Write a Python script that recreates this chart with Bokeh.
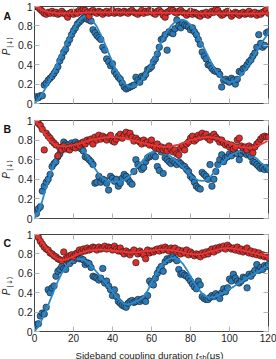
import math
from bokeh.plotting import figure
from bokeh.models import Range1d, FixedTicker, LinearAxis, ColumnDataSource
from bokeh.core.properties import value
from bokeh.layouts import column, row
from bokeh.embed import file_html
from bokeh.resources import INLINE

# ---------------- data ----------------
t_us = list(range(0, 121))          # sample times (us)
t_fit = list(range(0, 121, 2))      # fit curve sample times (us)

x_ticks = [0, 20, 40, 60, 80, 100, 120]
x_tick_labels = {0: "0", 20: "20", 40: "40", 60: "60", 80: "80", 100: "100", 120: "120"}
y_ticks = [0, 0.2, 0.4, 0.6, 0.8, 1]
y_tick_labels = {0: "0", 0.2: "0.2", 0.4: "0.4", 0.6: "0.6", 0.8: "0.8", 1: "1"}

panel_letters = ["A", "B", "C"]
x_title_parts = ["Sideband coupling duration ", "t", "sb", "(\u03bcs)"]
y_title_parts = ["P", "|\u2193\u27e9"]

red_A = [1.00,1.00,0.99,0.97,0.95,0.93,0.92,0.94,0.93,0.95,
         0.93,0.94,0.92,0.93,0.95,0.93,0.92,0.89,0.93,0.94,
         0.92,0.94,0.93,0.96,0.95,0.97,0.96,0.94,0.90,0.95,
         0.96,0.94,0.93,0.95,0.94,0.92,0.94,0.95,0.93,0.94,
         0.96,0.93,0.94,0.95,0.93,0.94,0.95,0.94,0.93,0.95,
         0.96,0.94,0.93,0.92,0.94,0.96,0.93,0.95,0.94,0.96,
         0.95,0.93,0.92,0.95,0.96,0.94,0.91,0.89,0.94,0.95,
         0.97,0.96,0.94,0.93,0.95,0.96,0.94,0.93,0.91,0.93,
         0.95,0.92,0.94,0.93,0.91,0.90,0.93,0.92,0.94,0.91,
         0.93,0.95,0.94,0.97,0.96,0.93,0.91,0.92,0.94,0.95,
         0.93,0.90,0.92,0.94,0.93,0.91,0.93,0.94,0.92,0.93,
         0.95,0.92,0.93,0.94,0.91,0.93,0.92,0.94,0.95,0.97,
         0.93]
blue_A = [0.06,0.07,0.06,0.08,0.08,0.19,0.21,0.24,0.26,0.28,
          0.31,0.34,0.38,0.44,0.48,0.53,0.56,0.62,0.66,0.71,
          0.75,0.78,0.82,0.84,0.86,0.88,0.89,0.87,0.86,0.85,
          0.76,0.73,0.70,0.68,0.66,0.58,0.55,0.46,0.43,0.39,
          0.41,0.33,0.30,0.27,0.25,0.21,0.17,0.15,0.16,0.17,
          0.18,0.19,0.27,0.24,0.22,0.28,0.27,0.30,0.35,0.36,
          0.38,0.43,0.46,0.51,0.58,0.66,0.67,0.71,0.55,0.74,
          0.73,0.72,0.77,0.86,0.80,0.78,0.83,0.81,0.80,0.79,
          0.76,0.78,0.74,0.71,0.66,0.61,0.53,0.49,0.46,0.40,
          0.39,0.36,0.34,0.33,0.33,0.30,0.17,0.24,0.25,0.23,
          0.22,0.26,0.24,0.20,0.25,0.33,0.32,0.36,0.37,0.40,
          0.43,0.45,0.49,0.52,0.58,0.71,0.62,0.58,0.60,0.73,
          0.74]
red_A_fit = [1.00,0.985,0.965,0.95,0.94,0.935,0.93,0.93,0.93,0.93,
             0.93,0.932,0.935,0.937,0.94,0.94,0.94,0.94,0.94,0.94,
             0.94,0.94,0.94,0.938,0.937,0.936,0.935,0.935,0.935,0.935,
             0.935,0.935,0.935,0.935,0.935,0.934,0.933,0.932,0.932,0.932,
             0.931,0.931,0.93,0.93,0.93,0.93,0.93,0.93,0.93,0.93,
             0.93,0.93,0.928,0.927,0.926,0.926,0.926,0.927,0.928,0.929,
             0.93]
blue_A_fit = [0.0,0.04,0.10,0.17,0.25,0.34,0.43,0.52,0.61,0.69,
              0.77,0.83,0.88,0.90,0.89,0.85,0.79,0.71,0.62,0.52,
              0.43,0.34,0.27,0.21,0.18,0.17,0.18,0.22,0.27,0.34,
              0.42,0.50,0.59,0.67,0.74,0.80,0.84,0.86,0.865,0.85,
              0.81,0.76,0.69,0.61,0.53,0.45,0.37,0.31,0.26,0.23,
              0.22,0.225,0.25,0.29,0.34,0.40,0.47,0.54,0.61,0.67,
              0.73]

red_B = [1.00,0.99,0.97,0.95,0.91,0.70,0.87,0.84,0.82,0.79,
         0.77,0.75,0.64,0.72,0.70,0.74,0.71,0.72,0.70,0.74,
         0.73,0.72,0.75,0.74,0.77,0.78,0.76,0.80,0.79,0.81,
         0.76,0.83,0.80,0.85,0.81,0.84,0.82,0.80,0.83,0.85,
         0.79,0.78,0.81,0.84,0.86,0.82,0.85,0.88,0.84,0.87,
         0.83,0.79,0.82,0.80,0.78,0.76,0.80,0.77,0.78,0.75,
         0.80,0.74,0.72,0.76,0.71,0.73,0.70,0.72,0.69,0.74,
         0.71,0.68,0.70,0.66,0.65,0.72,0.74,0.70,0.76,0.78,
         0.82,0.84,0.79,0.81,0.85,0.83,0.87,0.84,0.86,0.82,
         0.80,0.84,0.86,0.83,0.81,0.78,0.80,0.77,0.75,0.76,
         0.73,0.75,0.71,0.73,0.80,0.82,0.74,0.72,0.73,0.70,
         0.74,0.72,0.67,0.73,0.76,0.78,0.81,0.83,0.84,0.83,
         0.83]
blue_B = [0.06,0.05,0.10,0.12,0.28,0.33,0.37,0.40,0.45,0.53,
          0.56,0.58,0.63,0.66,0.73,0.78,0.76,0.75,0.74,0.77,
          0.75,0.78,0.76,0.73,0.71,0.69,0.63,0.62,0.60,0.58,
          0.55,0.36,0.37,0.43,0.37,0.40,0.39,0.36,0.29,0.43,
          0.41,0.38,0.40,0.33,0.36,0.41,0.45,0.43,0.40,0.37,
          0.35,0.48,0.60,0.55,0.53,0.50,0.52,0.58,0.62,0.63,
          0.64,0.65,0.63,0.53,0.49,0.68,0.46,0.62,0.60,0.58,
          0.56,0.59,0.57,0.55,0.58,0.56,0.54,0.53,0.50,0.48,
          0.43,0.41,0.37,0.33,0.31,0.30,0.47,0.45,0.43,0.40,
          0.55,0.33,0.40,0.48,0.55,0.60,0.65,0.58,0.62,0.63,
          0.66,0.64,0.68,0.67,0.66,0.60,0.66,0.69,0.68,0.65,
          0.66,0.63,0.58,0.57,0.55,0.53,0.51,0.52,0.50,0.52,
          0.50]
red_B_fit = [1.00,0.96,0.90,0.84,0.79,0.76,0.74,0.735,0.735,0.74,
             0.75,0.76,0.77,0.785,0.795,0.805,0.815,0.82,0.825,0.83,
             0.83,0.83,0.825,0.82,0.81,0.80,0.79,0.78,0.77,0.76,
             0.75,0.74,0.735,0.73,0.73,0.735,0.745,0.755,0.77,0.785,
             0.80,0.81,0.82,0.825,0.83,0.83,0.825,0.815,0.80,0.785,
             0.77,0.755,0.74,0.73,0.725,0.72,0.725,0.735,0.755,0.775,
             0.80]
blue_B_fit = [0.0,0.06,0.18,0.32,0.45,0.56,0.65,0.71,0.75,0.765,
              0.765,0.75,0.72,0.67,0.61,0.54,0.48,0.43,0.40,0.38,
              0.375,0.375,0.38,0.39,0.42,0.46,0.51,0.56,0.60,0.655,
              0.675,0.685,0.685,0.675,0.66,0.63,0.60,0.56,0.52,0.48,
              0.44,0.41,0.39,0.385,0.39,0.42,0.47,0.52,0.56,0.60,
              0.63,0.66,0.68,0.69,0.685,0.67,0.64,0.61,0.57,0.54,
              0.51]

red_C = [1.00,0.99,0.97,0.93,0.90,0.87,0.85,0.84,0.81,0.80,
         0.78,0.77,0.75,0.74,0.73,0.82,0.75,0.76,0.78,0.79,
         0.77,0.80,0.81,0.84,0.82,0.85,0.83,0.86,0.84,0.85,
         0.87,0.86,0.84,0.87,0.85,0.86,0.88,0.85,0.87,0.86,
         0.84,0.88,0.85,0.83,0.86,0.82,0.80,0.83,0.81,0.79,
         0.82,0.84,0.71,0.80,0.83,0.81,0.79,0.75,0.84,0.81,
         0.83,0.82,0.84,0.85,0.83,0.86,0.84,0.87,0.85,0.83,
         0.86,0.84,0.86,0.82,0.84,0.80,0.83,0.81,0.84,0.79,
         0.82,0.80,0.78,0.80,0.79,0.77,0.81,0.79,0.82,0.80,
         0.83,0.85,0.82,0.86,0.84,0.87,0.86,0.88,0.85,0.89,
         0.87,0.85,0.86,0.84,0.87,0.83,0.85,0.82,0.84,0.86,
         0.81,0.83,0.80,0.82,0.79,0.81,0.78,0.79,0.77,0.78,
         0.76]
blue_C = [0.06,0.07,0.08,0.16,0.19,0.18,0.25,0.43,0.40,0.45,
          0.47,0.57,0.62,0.64,0.67,0.65,0.64,0.72,0.70,0.74,
          0.73,0.76,0.77,0.75,0.75,0.74,0.69,0.71,0.70,0.66,
          0.57,0.56,0.55,0.53,0.55,0.65,0.50,0.52,0.47,0.43,
          0.37,0.43,0.36,0.31,0.29,0.27,0.26,0.25,0.29,0.31,
          0.32,0.30,0.31,0.33,0.31,0.33,0.34,0.31,0.37,0.52,
          0.49,0.48,0.55,0.60,0.64,0.67,0.62,0.72,0.75,0.74,
          0.76,0.77,0.75,0.73,0.64,0.59,0.60,0.58,0.57,0.55,
          0.52,0.49,0.46,0.44,0.52,0.48,0.36,0.34,0.33,0.33,
          0.35,0.37,0.36,0.39,0.37,0.34,0.40,0.44,0.41,0.45,
          0.54,0.52,0.59,0.55,0.52,0.50,0.52,0.56,0.55,0.45,
          0.59,0.57,0.60,0.63,0.69,0.63,0.66,0.64,0.68,0.67,
          0.69]
red_C_fit = [1.00,0.97,0.92,0.86,0.81,0.77,0.745,0.735,0.74,0.755,
             0.775,0.795,0.81,0.825,0.835,0.84,0.845,0.845,0.845,0.84,
             0.835,0.83,0.825,0.82,0.815,0.815,0.815,0.82,0.825,0.83,
             0.835,0.84,0.845,0.845,0.845,0.84,0.835,0.825,0.815,0.805,
             0.80,0.795,0.795,0.80,0.81,0.825,0.835,0.845,0.855,0.86,
             0.86,0.855,0.85,0.84,0.83,0.82,0.81,0.80,0.79,0.78,
             0.77]
blue_C_fit = [0.0,0.05,0.13,0.22,0.32,0.42,0.52,0.60,0.66,0.71,
              0.74,0.75,0.745,0.73,0.70,0.66,0.61,0.56,0.51,0.46,
              0.41,0.36,0.32,0.285,0.28,0.29,0.31,0.33,0.36,0.42,
              0.50,0.58,0.65,0.70,0.735,0.755,0.76,0.74,0.70,0.64,
              0.57,0.50,0.44,0.39,0.36,0.35,0.355,0.37,0.39,0.41,
              0.44,0.46,0.49,0.51,0.54,0.56,0.58,0.61,0.63,0.66,
              0.68]

# ---------------- style ----------------
FONT = "Liberation Sans"
BLUE_FILL = "#2a7ab8"
RED_FILL = "#dd2e2b"
BLUE_LINE = "#2f88c8"
RED_LINE = "#e6393a"
TICK_COL = "#b4b4b4"
FRAME_COL = "#444444"
TXT = "#222222"

STRIP_W = 14
FIG_W = 262
x_range = Range1d(0, 120)


def style_axis(ax, ticks, labels, show_labels):
    ax.ticker = FixedTicker(ticks=ticks)
    ax.major_label_overrides = labels
    ax.major_tick_in = 5
    ax.major_tick_out = 0
    ax.minor_tick_in = 0
    ax.minor_tick_out = 0
    ax.major_tick_line_color = TICK_COL
    ax.axis_line_color = None
    ax.major_label_text_font = FONT
    if show_labels:
        ax.major_label_text_color = TXT
        ax.major_label_text_font_size = "10.5px"
        ax.major_label_standoff = 2
    else:
        ax.major_label_text_color = None
        ax.major_label_text_font_size = "1px"
        ax.major_label_standoff = 0


def make_panel(red, blue, red_fit, blue_fit, top, frame_h, bottom, show_x):
    p = figure(width=FIG_W, height=top + frame_h + bottom, x_range=x_range,
               y_range=Range1d(0, 1), output_backend="svg", toolbar_location=None,
               min_border_left=17, min_border_right=8, min_border_top=top,
               min_border_bottom=bottom)
    p.grid.visible = False
    p.outline_line_color = FRAME_COL
    p.outline_line_width = 1

    style_axis(p.xaxis[0], x_ticks, x_tick_labels, show_x)
    if show_x:
        p.xaxis[0].major_label_text_font_size = "10px"
        p.xaxis[0].major_label_standoff = 2
    style_axis(p.yaxis[0], y_ticks, y_tick_labels, True)
    top_ax = LinearAxis()
    style_axis(top_ax, x_ticks, x_tick_labels, False)
    p.add_layout(top_ax, "above")
    right_ax = LinearAxis()
    style_axis(right_ax, y_ticks, y_tick_labels, False)
    p.add_layout(right_ax, "right")

    src_b = ColumnDataSource(dict(t=t_us, v=blue))
    src_r = ColumnDataSource(dict(t=t_us, v=red))
    p.scatter("t", "v", source=src_b, size=6.5, fill_color=BLUE_FILL,
              line_color="#1a1a1a", line_width=0.6)
    p.line(t_fit, blue_fit, line_color=BLUE_LINE, line_width=1.8)
    p.scatter("t", "v", source=src_r, size=6.5, fill_color=RED_FILL,
              line_color="#1a1a1a", line_width=0.6)
    p.line(t_fit, red_fit, line_color=RED_LINE, line_width=1.8)
    return p


# panel heights: frames at y 6-103, 120-218, 234-331 (page px)
pA = make_panel(red_A, blue_A, red_A_fit, blue_A_fit, 6, 97, 8, False)     # 0..111
pB = make_panel(red_B, blue_B, red_B_fit, blue_B_fit, 9, 98, 8, False)     # 111..226
pC = make_panel(red_C, blue_C, red_C_fit, blue_C_fit, 8, 97, 14, True)     # 226..345
COL_H = 111 + 115 + 119
TITLE_H = 359 - COL_H


def strip(w, h):
    s = figure(width=w, height=h, x_range=Range1d(0, w), y_range=Range1d(0, h),
               x_axis_type=None, y_axis_type=None, output_backend="svg",
               toolbar_location=None, min_border=0, min_border_left=0,
               min_border_right=0, min_border_top=0, min_border_bottom=0)
    s.outline_line_color = None
    return s


# left strip: panel letters and rotated y-axis titles (positions in px from top)
left = strip(STRIP_W, COL_H)
left.text(x=[3, 3, 3], y=[COL_H - 15.5, COL_H - 128.5, COL_H - 242],
          text=panel_letters, text_font=value(FONT), text_font_style="bold",
          text_font_size=value("10.5px"), text_color="#111111",
          text_align="left", text_baseline="alphabetic")
left.text(x=[6, 6, 6], y=[COL_H - 51.5, COL_H - 175, COL_H - 291.5],
          text=[y_title_parts[0]] * 3, text_font=value(FONT), text_font_style="italic",
          text_font_size=value("10px"), text_color=TXT, angle=math.pi / 2,
          text_align="center", text_baseline="middle")
left.text(x=[9.6, 9.6, 9.6], y=[COL_H - 42, COL_H - 165, COL_H - 281.5],
          text=[y_title_parts[1]] * 3, text_font=value("DejaVu Sans"),
          text_font_size=value("7px"), text_color=TXT, angle=math.pi / 2,
          text_align="center", text_baseline="middle")

# bottom strip: x-axis title with italic variable and subscript
bottom = strip(STRIP_W + FIG_W, TITLE_H)
base = TITLE_H - 9.5
bottom.text(x=[75], y=[base], text=[x_title_parts[0]], text_font=value(FONT),
            text_font_size=value("9.7px"), text_color=TXT,
            text_align="left", text_baseline="alphabetic")
bottom.text(x=[195.2], y=[base], text=[x_title_parts[1]], text_font=value(FONT),
            text_font_style="italic", text_font_size=value("9.7px"), text_color=TXT,
            text_align="left", text_baseline="alphabetic")
bottom.text(x=[198.4], y=[base - 2], text=[x_title_parts[2]], text_font=value(FONT),
            text_font_size=value("7px"), text_color=TXT,
            text_align="left", text_baseline="alphabetic")
bottom.text(x=[206], y=[base], text=[x_title_parts[3]], text_font=value(FONT),
            text_font_size=value("9.7px"), text_color=TXT,
            text_align="left", text_baseline="alphabetic")

layout = column(row(left, column(pA, pB, pC, spacing=0), spacing=0), bottom, spacing=0)
open("out.html", "w").write(file_html(layout, INLINE))
